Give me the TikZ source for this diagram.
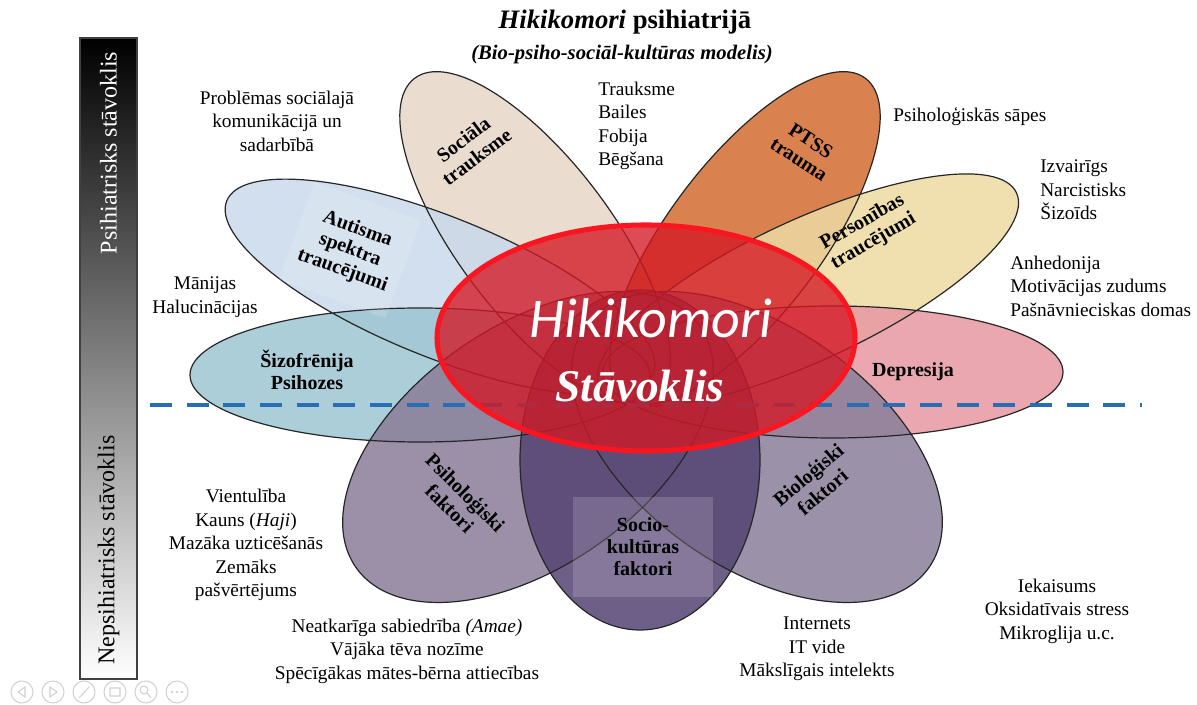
\documentclass[tikz,border=0pt]{standalone}
\usepackage{fontspec}
\setmainfont{Liberation Serif}
\newfontfamily\calibrifont{Carlito}
\usepackage{xcolor}
\usepackage{tikz}
\usetikzlibrary{positioning}

\definecolor{schizoC}{RGB}{157,197,209}
\definecolor{autismC}{RGB}{202,217,235}
\definecolor{socialC}{RGB}{230,214,198}
\definecolor{ptsdC}{RGB}{210,108,49}
\definecolor{personC}{RGB}{237,218,162}
\definecolor{deprC}{RGB}{231,152,162}
\definecolor{psychC}{RGB}{137,124,152}
\definecolor{socioC}{RGB}{84,67,114}
\definecolor{bioC}{RGB}{137,127,155}
\definecolor{coreC}{RGB}{212,24,36}
\definecolor{ringC}{RGB}{250,22,32}
\definecolor{dividerC}{RGB}{40,110,180}

% petal outlines, used for the fill and for the line
\newcommand{\petalSchizo}{(420,329) ellipse [x radius=230, y radius=67]}
\newcommand{\petalDepr}{(833,332) ellipse [x radius=230, y radius=66]}
\newcommand{\petalAutism}{(440,417) ellipse [x radius=230, y radius=70, rotate=158]}
\newcommand{\petalSocial}{(535,466) ellipse [x radius=200, y radius=77, rotate=127]}
\newcommand{\petalPtsd}{(745,466) ellipse [x radius=200, y radius=77, rotate=53]}
\newcommand{\petalPerson}{(808,414) ellipse [x radius=230, y radius=70, rotate=25]}
\newcommand{\petalPsych}{(528,257) ellipse [x radius=210, y radius=120, rotate=215]}
\newcommand{\petalSocio}{(640,244) ellipse [x radius=120, y radius=170]}
\newcommand{\petalBio}{(757,257) ellipse [x radius=210, y radius=120, rotate=-35]}

\begin{document}
\begin{tikzpicture}[x=0.75pt,y=0.75pt,
    petal fill/.style={fill opacity=0.85},
    petal line/.style={draw=black!85,line width=0.9pt},
    petal name/.style={font=\bfseries\fontsize{15}{16.5}\selectfont,align=center,inner sep=1pt},
    side note/.style={font=\fontsize{14.5}{17.6}\selectfont,align=center,inner sep=0pt}]
    \useasboundingbox (0,0) rectangle (1197,704);

    % side bar
    \shade[top color=black,middle color=black!45,bottom color=white] (80,25) rectangle (137,666);
    \draw[black!75,line width=0.9pt] (80,25) rectangle (137,666);
    \node[rotate=90,text=white,font=\fontsize{18}{20}\selectfont] (psy state) at (108.5,551) {Psihiatrisks stāvoklis};
    \node[rotate=90,font=\fontsize{18}{20}\selectfont] (nonpsy state) at (108.5,154) {Nepsihiatrisks stāvoklis};

    % petals
    \fill[petal fill,socialC] \petalSocial;
    \fill[petal fill,ptsdC] \petalPtsd;
    \fill[petal fill,autismC] \petalAutism;
    \fill[petal fill,personC] \petalPerson;
    \fill[petal fill,schizoC] \petalSchizo;
    \fill[petal fill,deprC] \petalDepr;
    \fill[petal fill,psychC] \petalPsych;
    \fill[petal fill,bioC] \petalBio;
    \fill[petal fill,socioC] \petalSocio;
    \draw[petal line] \petalSocial \petalPtsd \petalAutism \petalPerson \petalSchizo
        \petalDepr \petalPsych \petalBio \petalSocio;

    % divider
    \coordinate (div left) at (150,299);
    \coordinate (div right) at (1142,299);
    \draw[dividerC,line width=3pt,dash pattern=on 16.5pt off 11pt] (div left) -- (div right);

    % core
    \fill[coreC,fill opacity=0.78] (646,366) ellipse [x radius=209, y radius=113];
    \draw[ringC,line width=3.8pt] (646,366) ellipse [x radius=209, y radius=113];
    \node[text=white,font=\calibrifont\itshape\fontsize{42}{46}\selectfont] (core top) at (651,386) {Hikikomori};
    \node[text=white,font=\bfseries\itshape\fontsize{34}{38}\selectfont] (core bottom) at (640,318) {Stāvoklis};

    % petal names
    \node[petal name,rotate=37] (social name) at (470,556) {Sociāla\\trauksme};
    \node[petal name,rotate=-33] (ptsd name) at (805,554) {PTSS\\trauma};
    \node[petal name,rotate=-20,fill=white,fill opacity=0.14,text opacity=1,minimum width=85pt,minimum height=78pt] (autism name) at (350,454) {Autisma\\spektra\\traucējumi};
    \node[petal name,rotate=30] (person name) at (868,472) {Personības\\traucējumi};
    \node[petal name] (schizo name) at (307,334) {Šizofrēnija\\Psihozes};
    \node[petal name] (depr name) at (913,332) {Depresija};
    \node[petal name,rotate=-45] (psych name) at (458,204) {Psiholoģiski\\faktori};
    \node[petal name,fill=white,fill opacity=0.16,text opacity=1,minimum width=105pt,minimum height=75pt] (socio name) at (643,157) {Socio-\\kultūras\\faktori};
    \node[petal name,rotate=40] (bio name) at (815,221) {Bioloģiski\\faktori};

    % notes
    \node[side note] (social note) at (277,583) {Problēmas sociālajā\\komunikācijā un\\sadarbībā};
    \node[side note,align=left,anchor=west] (anxiety note) at (598,578) {Trauksme\\Bailes\\Fobija\\Bēgšana};
    \node[side note,anchor=west] (pain note) at (893,587) {Psiholoģiskās sāpes};
    \node[side note,align=left,anchor=west] (person note) at (1040,514) {Izvairīgs\\Narcistisks\\Šizoīds};
    \node[side note,align=left,anchor=west] (depr note) at (1010,418) {Anhedonija\\Motivācijas zudums\\Pašnāvnieciskas domas};
    \node[side note] (schizo note) at (205,407) {Mānijas\\Halucinācijas};
    \node[side note] (psych note) at (246,159) {Vientulība\\Kauns (\textit{Haji})\\Mazāka uzticēšanās\\Zemāks\\pašvērtējums};
    \node[side note] (family note) at (407,53) {Neatkarīga sabiedrība \textit{(Amae)}\\Vājāka tēva nozīme\\Spēcīgākas mātes-bērna attiecības};
    \node[side note] (it note) at (817,55) {Internets\\IT vide\\Mākslīgais intelekts};
    \node[side note] (bio note) at (1057,93) {Iekaisums\\Oksidatīvais stress\\Mikroglija u.c.};

    % title
    \node[font=\bfseries\fontsize{20}{22}\selectfont] (title) at (625,682) {\textit{Hikikomori} psihiatrijā};
    \node[font=\bfseries\itshape\fontsize{15.5}{17}\selectfont] (subtitle) at (622,649) {(Bio-psiho-sociāl-kultūras modelis)};

    % player buttons
    \draw[black!18,line width=0.8pt] (22,12) circle (11) (53,12) circle (11) (84,12) circle (11)
        (115,12) circle (11) (146,12) circle (11) (177,12) circle (11);
    \draw[black!18,line width=0.8pt] (25,17) -- (18,12) -- (25,7) -- cycle (50,17) -- (57,12) -- (50,7) -- cycle
        (79,6) -- (89,17) (110,8) rectangle (120,16) (144,14) circle (4) (147,11) -- (151,6);
    \fill[black!18] (172,12) circle (1.3) (177,12) circle (1.3) (182,12) circle (1.3);
\end{tikzpicture}
\end{document}
